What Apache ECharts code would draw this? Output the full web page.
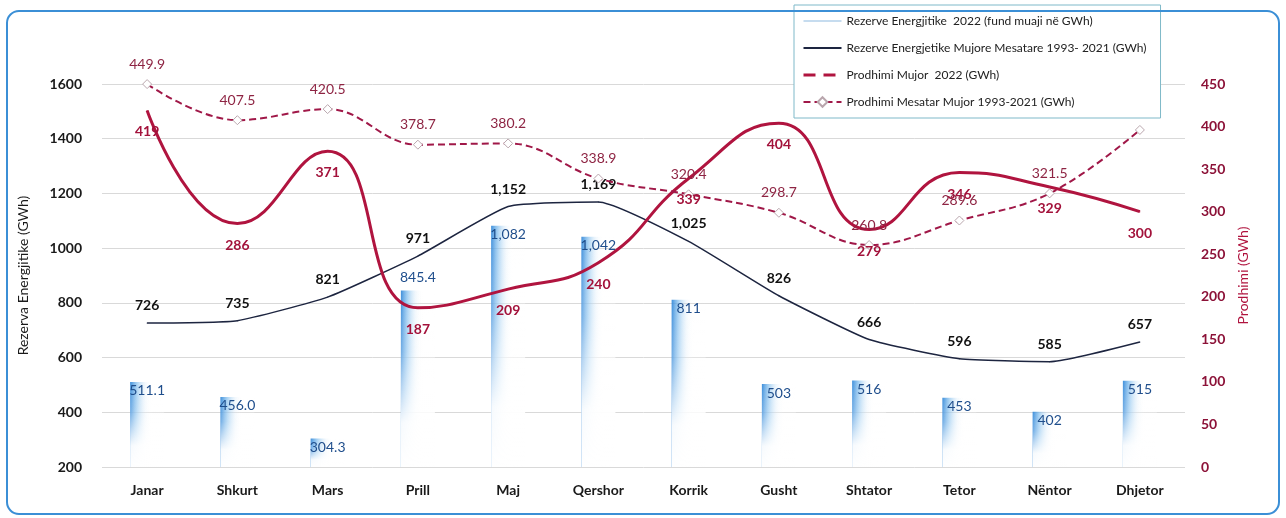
<!DOCTYPE html>
<html>
<head>
<meta charset="utf-8">
<script src="https://cdn.jsdelivr.net/npm/echarts@6/dist/echarts.min.js"></script>
<style>
  html, body { margin: 0; padding: 0; background: #fff; }
  #chart { width: 1286px; height: 518px; }
</style>
</head>
<body>
<div id="chart"></div>
<script>
// months
var months = ['Janar', 'Shkurt', 'Mars', 'Prill', 'Maj', 'Qershor', 'Korrik', 'Gusht', 'Shtator', 'Tetor', 'Nëntor', 'Dhjetor'];

// Rezerve Energjitike 2022 (fund muaji, GWh) - bars
var reserves2022 = [511.1, 456.0, 304.3, 845.4, 1082, 1042, 811, 503, 516, 453, 402, 515];
// Rezerve Energjetike Mujore Mesatare 1993-2021
var reservesAvg = [726, 735, 821, 971, 1152, 1169, 1025, 826, 666, 596, 585, 657];
// Prodhimi Mujor 2022
var prod2022 = [419, 286, 371, 187, 209, 240, 339, 404, 279, 346, 329, 300];
// Prodhimi Mesatar Mujor 1993-2021
var prodAvg = [449.9, 407.5, 420.5, 378.7, 380.2, 338.9, 320.4, 298.7, 260.8, 289.6, 321.5, 396];

var leftTicks = { min: 200, max: 1600, interval: 200 };
var rightTicks = { min: 0, max: 450, interval: 50 };

var names = [
    'Rezerve Energjitike  2022 (fund muaji në GWh)',
    'Rezerve Energjetike Mujore Mesatare 1993- 2021 (GWh)',
    'Prodhimi Mujor  2022 (GWh)',
    'Prodhimi Mesatar Mujor 1993-2021 (GWh)'
];

var FONT = 'Lato, "Noto Sans", sans-serif';
var RED = '#b0143f';
var RED_DASH = '#a01848';
var NAVY = '#1d2540';

var chart = echarts.init(document.getElementById('chart'));

var option = {
    animation: false,
    textStyle: { fontFamily: FONT },
    graphic: [{
        type: 'rect',
        z: 100,
        silent: true,
        shape: { x: 7, y: 11, width: 1272, height: 503, r: 12 },
        style: { fill: 'none', stroke: '#3b8fd6', lineWidth: 2 }
    }],
    legend: {
        orient: 'vertical',
        left: 794,
        top: 5,
        width: 370,
        padding: [10, 14, 10, 8],
        itemGap: 15,
        itemWidth: 38,
        itemHeight: 12,
        backgroundColor: '#fff',
        borderColor: '#7fb9c9',
        borderWidth: 1,
        z: 20,
        textStyle: { fontSize: 12, color: '#222', fontFamily: FONT },
        data: [
            { name: names[0], icon: 'path://M0,5 L40,5 L40,7 L0,7 Z', itemStyle: { color: '#c6dcef' } },
            { name: names[1], itemStyle: { opacity: 0 } },
            { name: names[2], itemStyle: { opacity: 0 }, lineStyle: { type: [12, 8], width: 3 } },
            { name: names[3] }
        ]
    },
    grid: { left: 102, right: 101, top: 84, bottom: 51 },
    xAxis: {
        type: 'category',
        data: months,
        axisLine: { show: false },
        axisTick: { show: false },
        axisLabel: { fontSize: 14, fontWeight: 'bold', color: '#1a1a1a', margin: 16 }
    },
    yAxis: [{
        type: 'value',
        min: leftTicks.min, max: leftTicks.max, interval: leftTicks.interval,
        name: 'Rezerva Energjitike (GWh)',
        nameLocation: 'middle',
        nameGap: 72,
        nameTextStyle: { fontSize: 14, color: '#1a1a1a' },
        axisLine: { show: false },
        axisTick: { show: false },
        axisLabel: {
            fontSize: 14, fontWeight: 'bold', color: '#1a1a1a', margin: 20,
            formatter: function (v) { return String(v); }
        },
        splitLine: { lineStyle: { color: '#d9d9d9' } }
    }, {
        type: 'value',
        min: rightTicks.min, max: rightTicks.max, interval: rightTicks.interval,
        name: 'Prodhimi (GWh)',
        nameLocation: 'middle',
        nameGap: 50,
        nameTextStyle: { fontSize: 14, color: RED },
        axisLine: { show: false },
        axisTick: { show: false },
        axisLabel: { fontSize: 14, fontWeight: 'bold', color: '#8c1238', margin: 16 },
        splitLine: { show: false }
    }],
    series: [{
        name: names[0],
        type: 'bar',
        barWidth: 34,
        barGap: '-100%',
        data: reserves2022,
        itemStyle: {
            color: new echarts.graphic.LinearGradient(0, 0, 1, 0, [
                { offset: 0, color: 'rgba(40,130,215,0.9)' },
                { offset: 0.2, color: 'rgba(110,180,235,0.6)' },
                { offset: 0.45, color: 'rgba(200,225,245,0.2)' },
                { offset: 0.65, color: 'rgba(255,255,255,0)' }
            ])
        }
    }, {
        type: 'bar',
        barWidth: 34,
        barGap: '-100%',
        silent: true,
        data: reserves2022.map(function (v, i) {
            // Prill label sits above its bar in the original
            return i === 3 ? { value: v, label: { position: 'top', distance: 6 } } : v;
        }),
        itemStyle: {
            color: new echarts.graphic.LinearGradient(0, 0, 0, 1, [
                { offset: 0, color: 'rgba(255,255,255,0)' },
                { offset: 0.35, color: 'rgba(255,255,255,0.25)' },
                { offset: 0.75, color: 'rgba(255,255,255,0.95)' },
                { offset: 1, color: '#fff' }
            ])
        },
        label: {
            show: true,
            position: 'insideTop',
            distance: 2,
            fontSize: 14,
            color: '#1f4e8c',
            formatter: function (p) {
                return p.dataIndex < 4 ? p.value.toFixed(1) : p.value.toLocaleString('en-US');
            }
        }
    }, {
        name: names[1],
        type: 'line',
        yAxisIndex: 0,
        data: reservesAvg,
        smooth: 0.15,
        symbol: 'circle',
        symbolSize: 1,
        z: 5,
        lineStyle: { color: NAVY, width: 1.5 },
        itemStyle: { color: NAVY },
        label: {
            show: true, position: 'top', distance: 10,
            fontSize: 14, fontWeight: 'bold', color: '#111',
            formatter: function (p) { return p.value.toLocaleString('en-US'); }
        }
    }, {
        name: names[2],
        type: 'line',
        yAxisIndex: 1,
        data: prod2022,
        smooth: 0.5,
        symbol: 'circle',
        symbolSize: 1,
        z: 6,
        lineStyle: { color: RED, width: 3 },
        itemStyle: { color: RED },
        label: {
            show: true, position: 'bottom', distance: 14,
            fontSize: 14, fontWeight: 'bold', color: '#a3123b'
        }
    }, {
        name: names[3],
        type: 'line',
        yAxisIndex: 1,
        data: prodAvg.map(function (v, i) {
            return i === prodAvg.length - 1 ? { value: v, label: { show: false } } : v;
        }),
        smooth: 0.4,
        symbol: 'diamond',
        symbolSize: 9,
        showAllSymbol: true,
        z: 6,
        lineStyle: { color: RED_DASH, width: 2, type: [7, 4] },
        itemStyle: { color: '#fff', borderColor: '#b9a6ad', borderWidth: 1 },
        label: {
            show: true, position: 'top', distance: 8,
            fontSize: 14, color: '#8e2443',
            formatter: function (p) { return p.value.toFixed(1); }
        }
    }]
};

chart.setOption(option);
</script>
</body>
</html>
